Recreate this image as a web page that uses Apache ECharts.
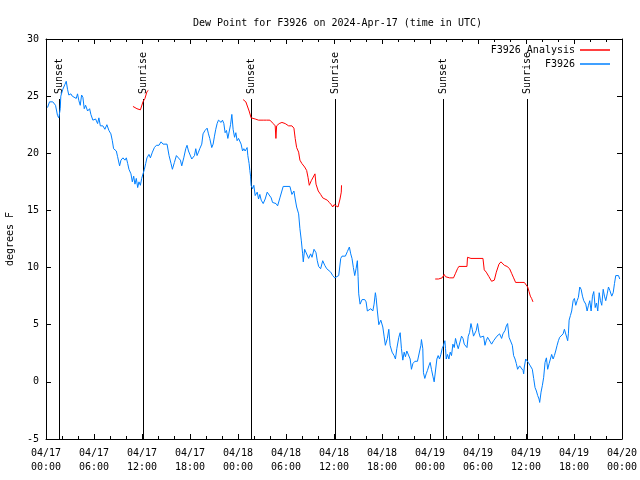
<!DOCTYPE html>
<html><head><meta charset="utf-8">
<script src="https://cdn.jsdelivr.net/npm/echarts@6/dist/echarts.min.js"></script>
<style>html,body{margin:0;padding:0;background:#fff}#c{width:640px;height:480px}</style>
</head><body><div id="c"></div>
<script>
// time in hours after 2024-04-17 00:00 UTC, dew point in degrees F
const observed = [[0.19,24.0],[0.44,24.5],[0.85,24.5],[1.19,24.2],[1.44,23.3],[1.60,23.1],[1.78,23.9],[1.85,25.0],[2.10,25.6],[2.35,26.0],[2.53,26.3],[2.69,25.6],[2.85,25.1],[3.11,25.2],[3.28,25.0],[3.53,25.1],[3.78,24.8],[3.94,25.2],[4.11,24.6],[4.28,24.2],[4.45,25.1],[4.61,24.9],[4.78,23.9],[4.95,24.2],[5.20,23.7],[5.45,23.9],[5.61,23.4],[5.86,22.9],[6.20,23.0],[6.45,22.6],[6.61,23.1],[6.79,22.4],[7.11,22.4],[7.36,22.1],[7.61,22.5],[7.86,22.0],[8.11,21.7],[8.29,21.1],[8.45,20.4],[8.62,20.5],[8.79,20.2],[8.95,19.7],[9.20,18.9],[9.37,19.4],[9.62,19.6],[9.87,19.4],[10.04,19.6],[10.21,19.1],[10.37,18.6],[10.62,18.2],[10.79,17.5],[10.96,18.0],[11.12,17.3],[11.29,17.8],[11.46,17.0],[11.62,17.5],[11.80,17.2],[11.96,17.8],[12.12,17.9],[12.30,18.6],[12.46,19.1],[12.62,19.6],[12.87,19.9],[13.05,19.6],[13.30,20.1],[13.55,20.5],[13.80,20.7],[14.12,20.7],[14.38,21.0],[14.63,20.8],[14.88,20.7],[15.13,20.8],[15.38,19.8],[15.63,19.1],[15.80,18.6],[16.05,19.2],[16.30,19.8],[16.55,19.7],[16.80,19.4],[16.97,18.9],[17.22,19.6],[17.47,20.4],[17.63,20.7],[17.81,20.2],[17.97,20.1],[18.22,19.5],[18.38,19.4],[18.56,19.8],[18.72,20.4],[18.88,19.8],[19.06,20.1],[19.22,20.4],[19.47,20.8],[19.63,21.7],[19.88,22.0],[20.14,22.2],[20.31,21.7],[20.47,21.3],[20.72,20.5],[20.89,20.8],[21.06,21.5],[21.22,22.1],[21.39,22.6],[21.56,22.9],[21.73,23.0],[21.89,22.7],[22.06,22.9],[22.23,22.6],[22.39,21.8],[22.56,22.0],[22.73,21.3],[22.89,21.3],[23.07,22.5],[23.23,23.4],[23.39,22.1],[23.57,21.4],[23.73,21.8],[23.89,21.1],[24.07,21.3],[24.23,21.4],[24.39,20.8],[24.57,20.2],[24.73,20.4],[24.89,20.2],[25.14,20.5],[25.23,19.8],[25.32,19.4],[25.39,19.1],[25.48,18.5],[25.57,18.0],[25.64,17.2],[25.82,16.9],[25.98,17.2],[26.15,16.3],[26.40,16.6],[26.57,16.0],[26.73,16.4],[26.90,15.9],[27.15,15.6],[27.40,16.0],[27.65,16.6],[27.90,16.7],[28.15,16.1],[28.32,15.7],[28.57,15.6],[28.75,15.6],[28.95,15.4],[29.24,16.1],[29.65,17.1],[30.49,17.1],[30.74,16.4],[30.99,16.7],[31.15,16.0],[31.33,15.3],[31.58,14.7],[31.74,13.4],[31.91,12.4],[32.08,11.2],[32.16,10.5],[32.33,11.6],[32.58,11.6],[32.83,10.8],[33.08,11.2],[33.25,10.9],[33.50,11.6],[33.75,11.3],[33.91,10.6],[34.08,10.1],[34.33,9.9],[34.59,10.6],[34.84,10.2],[35.09,9.9],[35.34,9.8],[35.59,9.6],[35.84,9.3],[36.09,9.1],[36.34,9.0],[36.59,9.3],[36.84,10.8],[37.00,11.0],[37.42,11.0],[37.67,11.4],[37.92,11.8],[38.09,11.2],[38.25,10.8],[38.42,10.0],[38.59,9.3],[38.76,9.9],[38.92,10.6],[39.01,9.2],[39.09,7.7],[39.26,6.8],[39.51,7.2],[39.84,7.2],[40.01,7.0],[40.17,6.2],[40.35,6.1],[40.60,6.4],[40.85,6.2],[41.01,6.8],[41.17,7.8],[41.26,7.4],[41.42,6.2],[41.60,5.0],[41.85,5.4],[42.10,4.8],[42.26,4.0],[42.42,3.2],[42.67,3.8],[42.85,4.6],[43.01,3.2],[43.26,2.6],[43.51,2.3],[43.68,2.0],[43.85,2.9],[44.10,3.9],[44.27,4.3],[44.43,2.9],[44.60,1.9],[44.77,2.6],[44.93,2.2],[45.10,2.7],[45.35,2.7],[45.52,2.0],[45.68,1.1],[45.86,1.6],[46.11,1.8],[46.43,1.8],[46.68,1.7],[46.86,3.2],[46.93,3.7],[47.10,2.9],[47.18,0.8],[47.35,0.3],[47.52,0.7],[47.68,1.0],[47.86,1.4],[48.02,1.7],[48.18,1.1],[48.36,0.5],[48.52,0.0],[48.69,0.1],[48.86,2.0],[49.02,2.3],[49.19,2.0],[49.36,2.4],[49.52,2.9],[49.69,3.2],[49.86,3.6],[49.94,2.9],[50.03,2.0],[50.19,2.4],[50.36,2.0],[50.53,2.6],[50.69,2.3],[50.86,3.3],[51.03,3.0],[51.19,3.8],[51.36,3.3],[51.53,2.9],[51.78,2.9],[51.94,4.0],[52.12,3.8],[52.28,3.3],[52.44,3.2],[52.62,3.0],[52.78,4.0],[52.94,4.3],[53.12,5.1],[53.28,4.6],[53.44,4.0],[53.62,4.0],[53.78,4.5],[53.94,5.1],[54.12,4.3],[54.28,3.9],[54.53,3.9],[54.70,4.0],[54.87,3.2],[55.03,3.6],[55.20,3.9],[55.45,3.9],[55.70,3.3],[55.95,3.6],[56.20,3.6],[56.37,4.0],[56.54,3.9],[56.70,4.2],[56.95,3.8],[57.12,4.2],[57.38,4.5],[57.54,4.9],[57.70,5.1],[57.88,3.9],[58.13,3.9],[58.29,3.2],[58.45,2.3],[58.63,2.0],[58.79,1.6],[58.95,1.1],[59.20,1.4],[59.45,1.4],[59.63,1.0],[59.71,0.7],[59.79,1.3],[59.96,2.0],[60.13,2.1],[60.29,1.7],[60.54,1.4],[60.79,1.1],[60.96,0.3],[61.13,-0.5],[61.30,-0.8],[61.46,-1.2],[61.63,-1.5],[61.71,-1.8],[61.88,-0.9],[62.05,-0.3],[62.21,0.4],[62.38,1.7],[62.55,2.1],[62.71,1.1],[62.89,1.6],[63.05,2.0],[63.21,2.4],[63.39,2.0],[63.55,2.3],[63.71,2.7],[63.89,3.2],[64.05,3.6],[64.21,3.9],[64.46,3.8],[64.64,4.2],[64.80,4.6],[65.05,4.5],[65.21,3.6],[65.30,4.2],[65.39,5.4],[65.55,5.8],[65.71,6.2],[65.89,7.1],[66.05,7.3],[66.22,6.7],[66.39,7.1],[66.55,7.4],[66.72,8.3],[66.89,8.1],[67.06,7.5],[67.22,7.1],[67.47,6.8],[67.64,6.2],[67.81,6.7],[67.97,7.1],[68.14,6.2],[68.31,7.5],[68.47,7.9],[68.65,6.5],[68.81,6.9],[68.97,6.2],[69.15,7.8],[69.31,7.1],[69.47,6.7],[69.65,8.1],[69.81,7.5],[69.97,7.1],[70.15,7.7],[70.31,8.3],[70.48,8.0],[70.72,7.5],[70.90,7.8],[71.06,8.6],[71.22,9.3],[71.40,9.3],[71.56,9.3],[71.72,9.0]];

const analysis = [[10.87,24.1],[11.37,23.9],[11.80,23.8],[11.96,23.9],[12.12,24.5],[12.37,24.8],[12.62,25.4],[12.80,25.5],
[18,null],
[24.64,24.7],[24.98,24.5],[25.39,23.7],[25.64,23.1],[26.15,23.0],[26.57,22.9],[27.15,22.9],[27.57,22.9],[27.99,22.9],[28.40,22.6],[28.65,22.4],[28.74,21.3],[28.83,22.4],[29.15,22.6],[29.49,22.7],[29.90,22.6],[30.33,22.4],[30.74,22.4],[30.99,22.2],[31.15,21.3],[31.33,20.5],[31.58,20.1],[31.74,19.4],[31.99,19.1],[32.33,18.8],[32.58,18.5],[32.75,17.9],[32.91,17.2],[33.16,17.6],[33.62,18.2],[33.75,17.3],[34.03,16.7],[34.33,16.4],[34.59,16.1],[34.87,16.0],[35.16,15.9],[35.41,15.7],[35.66,15.5],[35.84,15.3],[36.00,15.5],[36.25,15.4],[36.50,15.3],[36.66,15.4],[36.75,16.0],[36.91,16.6],[36.94,17.2],
[42,null],
[48.65,9.0],[49.06,9.0],[49.52,9.1],[49.77,9.4],[49.94,9.2],[50.44,9.1],[50.94,9.1],[51.19,9.5],[51.44,9.9],[51.61,10.1],[52.62,10.1],[52.69,10.9],[53.12,10.8],[54.62,10.8],[54.78,9.8],[55.03,9.6],[55.37,9.2],[55.70,8.8],[56.04,8.9],[56.29,9.6],[56.62,10.3],[56.87,10.5],[57.29,10.2],[57.63,10.1],[57.95,9.9],[58.20,9.5],[58.45,9.1],[58.70,8.7],[59.13,8.7],[59.79,8.7],[60.04,8.8],[60.21,8.3],[60.38,7.9],[60.54,7.5],[60.70,7.3],[60.87,7.0]];

const sunEventHours = [1.60, 12.12, 25.64, 36.17, 49.58, 60.13];
const sunEventLabels = ['Sunset', 'Sunrise', 'Sunset', 'Sunrise', 'Sunset', 'Sunrise'];
const sunLineTop = 24.75;
const yTicks = [-5, 0, 5, 10, 15, 20, 25, 30];

const FONT = 'DejaVu Sans Mono';
const black = '#000';
function fmtTime(h) {
  const d = 17 + Math.floor(h / 24);
  const hh = Math.round(h % 24);
  return '04/' + d + '\n' + String(hh).padStart(2, '0') + ':00';
}
const tickCommon = { show: true, inside: true, length: 5, lineStyle: { color: black, width: 1 } };
const lineCommon = { show: true, onZero: false, lineStyle: { color: black, width: 1 } };
const chart = echarts.init(document.getElementById('c'));
chart.setOption({
  animation: false,
  backgroundColor: '#fff',
  title: { text: 'Dew Point for F3926 on 2024-Apr-17 (time in UTC)', left: 188, top: 13,
    textStyle: { fontFamily: FONT, fontSize: 10, fontWeight: 'normal', color: black } },
  legend: { orient: 'vertical', right: 25, top: 39, align: 'right', itemWidth: 30, itemHeight: 1.5,
    itemGap: 2, icon: 'rect', data: ['F3926 Analysis', 'F3926'],
    textStyle: { fontFamily: FONT, fontSize: 10, color: black, lineHeight: 12 } },
  grid: { left: 46, right: 18, top: 39, bottom: 41, containLabel: false, outerBoundsMode: 'none' },
  xAxis: [
    { type: 'value', min: 0, max: 72, interval: 6, position: 'bottom',
      axisLine: lineCommon, axisTick: tickCommon,
      minorTick: { show: true, splitNumber: 3, length: 3, lineStyle: { color: black } },
      splitLine: { show: false },
      axisLabel: { formatter: fmtTime, fontFamily: FONT, fontSize: 10, color: black, lineHeight: 14, margin: 7 } },
    { type: 'value', min: 0, max: 72, interval: 6, position: 'top',
      axisLine: lineCommon, axisTick: tickCommon,
      minorTick: { show: true, splitNumber: 3, length: 3, lineStyle: { color: black } },
      splitLine: { show: false }, axisLabel: { show: false } }
  ],
  yAxis: [
    { type: 'value', min: yTicks[0], max: yTicks[yTicks.length - 1], interval: 5, position: 'left',
      name: 'degrees F', nameLocation: 'middle', nameGap: 31,
      nameTextStyle: { fontFamily: FONT, fontSize: 10, color: black },
      axisLine: lineCommon, axisTick: tickCommon,
      splitLine: { show: false },
      axisLabel: { fontFamily: FONT, fontSize: 10, color: black, margin: 7 } },
    { type: 'value', min: yTicks[0], max: yTicks[yTicks.length - 1], interval: 5, position: 'right',
      axisLine: lineCommon, axisTick: tickCommon,
      splitLine: { show: false }, axisLabel: { show: false } }
  ],
  series: [
    { type: 'custom', name: 'sun', xAxisIndex: 0, yAxisIndex: 0, silent: true, z: 1,
      data: sunEventHours.map(h => [h, sunLineTop]),
      renderItem: function (params, api) {
        const top = api.coord([api.value(0), sunLineTop]);
        const bot = api.coord([api.value(0), yTicks[0]]);
        const x = Math.round(top[0]) + 0.5;
        return { type: 'group', children: [
          { type: 'line', shape: { x1: x, y1: top[1], x2: x, y2: bot[1] }, style: { stroke: black, lineWidth: 1 } },
          { type: 'text', x: x, y: top[1] - 5, rotation: Math.PI / 2,
            style: { text: sunEventLabels[params.dataIndex], fill: black, font: '10px ' + FONT, align: 'left', verticalAlign: 'middle' } }
        ] };
      } },
    { type: 'line', name: 'F3926 Analysis', data: analysis, showSymbol: false, connectNulls: false,
      lineStyle: { color: '#ff0000', width: 1 }, itemStyle: { color: '#ff0000' }, z: 3 },
    { type: 'line', name: 'F3926', data: observed, showSymbol: false,
      lineStyle: { color: '#0080ff', width: 1 }, itemStyle: { color: '#0080ff' }, z: 2 }
  ]
});
</script></body></html>
